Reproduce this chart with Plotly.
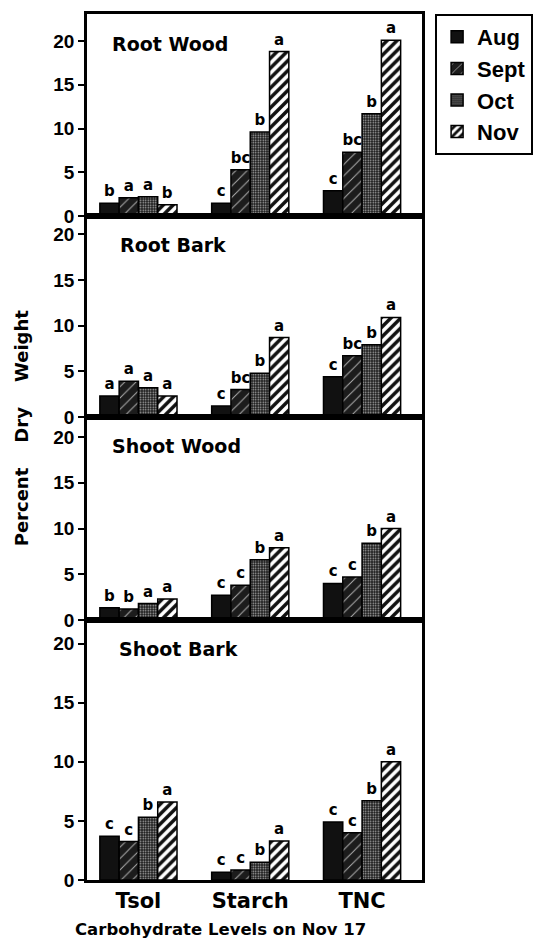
import plotly.graph_objects as go
from plotly.subplots import make_subplots

categories = ["Tsol", "Starch", "TNC"]
months = ["Aug", "Sept", "Oct", "Nov"]
panels = ["Root Wood", "Root Bark", "Shoot Wood", "Shoot Bark"]

# values[panel][month] -> [Tsol, Starch, TNC]
root_wood = {
    "Aug": [1.45, 1.45, 2.9],
    "Sept": [2.1, 5.3, 7.3],
    "Oct": [2.2, 9.6, 11.7],
    "Nov": [1.3, 18.8, 20.1],
}
root_bark = {
    "Aug": [2.3, 1.2, 4.4],
    "Sept": [3.9, 3.0, 6.7],
    "Oct": [3.2, 4.8, 7.9],
    "Nov": [2.3, 8.7, 10.9],
}
shoot_wood = {
    "Aug": [1.35, 2.7, 4.0],
    "Sept": [1.2, 3.8, 4.7],
    "Oct": [1.8, 6.6, 8.4],
    "Nov": [2.3, 7.9, 10.0],
}
shoot_bark = {
    "Aug": [3.7, 0.65, 4.9],
    "Sept": [3.25, 0.85, 4.0],
    "Oct": [5.3, 1.5, 6.7],
    "Nov": [6.6, 3.3, 10.0],
}

# significance letters
root_wood_letters = {"Aug": ["b", "c", "c"], "Sept": ["a", "bc", "bc"], "Oct": ["a", "b", "b"], "Nov": ["b", "a", "a"]}
root_bark_letters = {"Aug": ["a", "c", "c"], "Sept": ["a", "bc", "bc"], "Oct": ["a", "b", "b"], "Nov": ["a", "a", "a"]}
shoot_wood_letters = {"Aug": ["b", "c", "c"], "Sept": ["b", "c", "c"], "Oct": ["a", "b", "b"], "Nov": ["a", "a", "a"]}
shoot_bark_letters = {"Aug": ["c", "c", "c"], "Sept": ["c", "c", "c"], "Oct": ["b", "b", "b"], "Nov": ["a", "a", "a"]}

data = [root_wood, root_bark, shoot_wood, shoot_bark]
letters = [root_wood_letters, root_bark_letters, shoot_wood_letters, shoot_bark_letters]
y_ranges = [23.1, 22.0, 22.2, 22.0]

patterns = {
    "Aug": dict(shape="", bgcolor="#111111", fgcolor="#111111"),
    "Sept": dict(shape="/", bgcolor="#1c1c1c", fgcolor="#b0b0b0", size=8, solidity=0.12),
    "Oct": dict(shape=".", bgcolor="#1a1a1a", fgcolor="#b8b8b8", size=2.5, solidity=0.3),
    "Nov": dict(shape="/", bgcolor="white", fgcolor="#111111", size=7, solidity=0.5),
}

fig = make_subplots(rows=4, cols=1, shared_xaxes=True, vertical_spacing=0,
                    row_heights=[202, 201, 203, 260])

BOLD = "DejaVu Sans"
for p in range(4):
    for m in months:
        pat = patterns[m]
        fig.add_trace(go.Bar(
            x=categories, y=data[p][m], name=m,
            text=letters[p][m], textposition="outside", constraintext="none",
            textfont=dict(family=BOLD, size=15, color="black", weight="bold"),
            cliponaxis=False,
            marker=dict(color=pat["bgcolor"], line=dict(color="black", width=1.5),
                        pattern=dict(**pat, fillmode="replace") if pat["shape"] else None),
            showlegend=(p == 0), legendgroup=m,
        ), row=p + 1, col=1)

fig.update_layout(
    width=544, height=940,
    margin=dict(l=87, r=121, t=14, b=60),
    barmode="group", bargap=0.31, bargroupgap=0,
    plot_bgcolor="white", paper_bgcolor="white",
    showlegend=True,
    legend=dict(x=1.036, y=1.0, xanchor="left", yanchor="top",
                bordercolor="black", borderwidth=2, bgcolor="white",
                font=dict(family="Liberation Sans", size=22, color="black", weight="bold"),
                traceorder="normal", tracegroupgap=0),
)

for p in range(4):
    fig.update_yaxes(range=[0, y_ranges[p]], tickvals=[0, 5, 10, 15, 20],
                     ticks="outside", ticklen=6, tickwidth=2, tickcolor="black",
                     showline=True, linewidth=2.5, linecolor="black", mirror=True,
                     showgrid=False, zeroline=False,
                     tickfont=dict(family="Liberation Sans", size=19, color="black", weight="bold"),
                     row=p + 1, col=1)
    fig.update_xaxes(range=[-0.46, 2.536], showline=True, linewidth=2.5, linecolor="black",
                     mirror=True, showgrid=False, ticks="",
                     showticklabels=(p == 3),
                     tickfont=dict(family=BOLD, size=21, color="black", weight="bold"),
                     row=p + 1, col=1)

title_pos = [(0.068, 0.851), (0.092, 0.856), (0.068, 0.857), (0.089, 0.888)]
for p in range(4):
    ax = "" if p == 0 else str(p + 1)
    fig.add_annotation(text=panels[p], xref=f"x{ax} domain", yref=f"y{ax} domain",
                       x=title_pos[p][0], y=title_pos[p][1], xanchor="left", yanchor="middle",
                       showarrow=False,
                       font=dict(family=BOLD, size=19, color="black", weight="bold"))

fig.add_annotation(text="Percent\u00a0\u00a0\u00a0\u00a0Dry\u00a0\u00a0\u00a0\u00a0Weight", textangle=-90,
                   xref="paper", yref="paper", x=-0.193, y=0.522,
                   xanchor="center", yanchor="middle", showarrow=False,
                   font=dict(family=BOLD, size=18, color="black", weight="bold"))

fig.add_annotation(text="Carbohydrate Levels on Nov 17",
                   xref="paper", yref="paper", x=0.399, y=-0.0566,
                   xanchor="center", yanchor="middle", showarrow=False,
                   font=dict(family=BOLD, size=16.5, color="black", weight="bold"))

fig.write_html("out.html", config={"displayModeBar": False},
               post_script="document.body.style.margin='0px';document.body.style.overflow='hidden';")
